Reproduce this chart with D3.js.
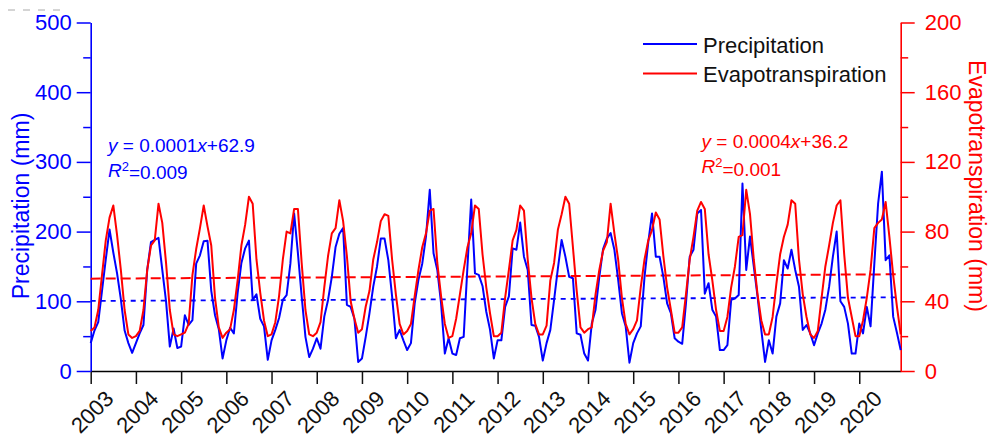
<!DOCTYPE html>
<html>
<head>
<meta charset="utf-8">
<script src="https://cdn.jsdelivr.net/npm/d3@7"></script>
<style>
  body { margin: 0; background: #fff; }
  svg text { font-family: "Liberation Sans", Arial, sans-serif; }
</style>
</head>
<body>
<div id="chart"></div>
<script>
// tick labels
var years = [2003, 2004, 2005, 2006, 2007, 2008, 2009, 2010, 2011,
  2012, 2013, 2014, 2015, 2016, 2017, 2018, 2019, 2020];
var precipTicks = d3.range(0, 501, 50);
var etTicks = d3.range(0, 201, 20);

// monthly precipitation (mm), Jan..Dec per row
var precipitation = [
  40, 58, 70, 115, 160, 203, 170, 140, 103, 58, 40, 26,    // 2003
  40, 54, 66, 145, 185, 188, 191, 145, 100, 35, 61, 33,    // 2004
  35, 80, 66, 73, 154, 166, 186, 187, 115, 80, 60, 18,     // 2005
  44, 62, 54, 112, 155, 176, 187, 102, 110, 75, 64, 16,    // 2006
  44, 59, 76, 102, 109, 154, 226, 169, 107, 49, 20, 32,    // 2007
  47, 32, 78, 102, 135, 178, 197, 205, 95, 92, 75, 13,     // 2008
  18, 49, 83, 121, 150, 190, 190, 159, 107, 47, 59, 44,    // 2009
  30, 40, 97, 131, 154, 193, 260, 169, 145, 97, 25, 47,    // 2010
  25, 23, 47, 49, 150, 246, 140, 138, 122, 85, 59, 18,     // 2011
  44, 44, 92, 107, 176, 174, 213, 164, 145, 66, 65, 49,    // 2012
  15, 40, 59, 102, 147, 188, 164, 135, 133, 54, 52, 25,    // 2013
  15, 68, 88, 135, 175, 190, 198, 174, 131, 83, 64, 12,    // 2014
  40, 54, 64, 135, 185, 226, 164, 164, 135, 97, 83, 47,    // 2015
  42, 39, 97, 164, 174, 226, 231, 111, 126, 88, 78, 30,    // 2016
  30, 37, 102, 104, 109, 269, 145, 193, 150, 107, 59, 13,  // 2017
  44, 25, 78, 97, 159, 147, 174, 145, 121, 59, 66, 54,     // 2018
  37, 54, 68, 88, 121, 164, 200, 100, 92, 68, 25, 25,      // 2019
  68, 54, 92, 64, 154, 240, 286, 159, 166, 78, 55, 30      // 2020
];

// monthly evapotranspiration (mm)
var evapotranspiration = [
  23, 25, 35, 55, 75, 88, 95, 78, 58, 35, 21, 19,   // 2003
  20, 23, 35, 58, 72, 75, 96, 85, 62, 35, 21, 20,   // 2004
  21, 22, 27, 55, 70, 82, 95, 83, 72, 42, 25, 19,   // 2005
  22, 24, 35, 52, 72, 84, 100, 96, 64, 45, 29, 20,  // 2006
  21, 28, 43, 64, 80, 79, 93, 93, 62, 35, 21, 20,   // 2007
  22, 28, 48, 66, 79, 82, 98, 86, 66, 40, 30, 22,   // 2008
  24, 37, 46, 64, 74, 86, 90, 89, 64, 44, 27, 21,   // 2009
  23, 27, 43, 58, 71, 79, 92, 93, 62, 43, 27, 19,   // 2010
  20, 30, 44, 58, 71, 79, 95, 93, 67, 48, 33, 20,   // 2011
  20, 22, 42, 58, 75, 81, 95, 92, 64, 42, 27, 21,   // 2012
  21, 26, 52, 62, 81, 90, 100, 96, 71, 46, 25, 22,  // 2013
  24, 25, 44, 58, 69, 74, 96, 79, 64, 42, 27, 21,   // 2014
  24, 29, 48, 64, 75, 81, 91, 87, 66, 48, 35, 22,   // 2015
  22, 25, 44, 64, 77, 92, 97, 93, 67, 52, 35, 23,   // 2016
  23, 31, 48, 60, 77, 78, 104, 90, 64, 44, 29, 21,  // 2017
  21, 31, 50, 67, 77, 84, 98, 96, 64, 44, 31, 21,   // 2018
  19, 23, 42, 60, 72, 85, 95, 98, 67, 42, 31, 20,   // 2019
  20, 29, 42, 58, 82, 85, 87, 97, 77, 55, 37, 21    // 2020
];

// linear trend values at first and last month
var precipTrend = [100.5, 105.7];
var etTrend = [53, 55.5];

var w = 989,
  h = 437;
var plotL = 90.7,
  plotR = 900.7,
  plotT = 22.5,
  plotB = 371;
var blue = "#0000ff",
  red = "#ff0000";

var svg = d3.select("#chart")
  .append("svg")
  .attr("width", w)
  .attr("height", h);

var xscale = d3.scaleLinear().domain([0, precipitation.length - 1]).range([plotL, plotR]);
var yLeft = d3.scaleLinear().domain([0, 500]).range([plotB, plotT]);
var yRight = d3.scaleLinear().domain([0, 200]).range([plotB, plotT]);

// stray dashes top-left of the original figure
svg.append("line")
  .attr("x1", 8).attr("x2", 60).attr("y1", 10).attr("y2", 10)
  .attr("stroke", "#aaa").attr("stroke-width", 1).attr("stroke-dasharray", "7,8");

// x axis
var xaxis = d3.axisBottom(xscale)
  .tickValues(years.map(function(d, i) { return i * 12; }))
  .tickFormat(function(d) { return years[d / 12]; })
  .tickSize(13)
  .tickSizeOuter(0);
var gx = svg.append("g")
  .attr("class", "axis x")
  .attr("transform", "translate(0," + plotB + ")")
  .call(xaxis);
gx.select(".domain").attr("stroke", "#000").attr("stroke-width", 1.5);
gx.selectAll(".tick line").attr("stroke", "#111").attr("stroke-width", 1.5);
gx.selectAll(".tick text")
  .attr("y", 0)
  .attr("dy", null)
  .attr("transform", "translate(1,41) rotate(-45)")
  .attr("text-anchor", "middle")
  .attr("dominant-baseline", "central")
  .attr("fill", "#111")
  .style("font-size", "22px");

// left axis
var yaxisL = d3.axisLeft(yLeft)
  .tickValues(precipTicks)
  .tickFormat(function(d) { return d % 100 === 0 ? d : ""; })
  .tickSize(14)
  .tickPadding(5)
  .tickSizeOuter(0);
var gl = svg.append("g")
  .attr("class", "axis y")
  .attr("transform", "translate(" + plotL + ",0)")
  .call(yaxisL);
gl.select(".domain").attr("stroke", blue).attr("stroke-width", 1.6);
gl.selectAll(".tick line").attr("stroke", blue).attr("stroke-width", 1.5)
  .attr("x2", function(d) { return d % 100 === 0 ? -14 : -7.5; });
gl.selectAll(".tick text").attr("fill", blue).style("font-size", "22px");

// right axis
var yaxisR = d3.axisRight(yRight)
  .tickValues(etTicks)
  .tickFormat(function(d) { return d % 40 === 0 ? d : ""; })
  .tickSize(14)
  .tickPadding(10)
  .tickSizeOuter(0);
var gr = svg.append("g")
  .attr("class", "axis y2")
  .attr("transform", "translate(" + plotR + ",0)")
  .call(yaxisR);
gr.select(".domain").attr("stroke", red).attr("stroke-width", 1.6);
gr.selectAll(".tick line").attr("stroke", red).attr("stroke-width", 1.5)
  .attr("x2", function(d) { return d % 40 === 0 ? 14 : 7.5; });
gr.selectAll(".tick text").attr("fill", red).style("font-size", "22px");

// axis titles
svg.append("text")
  .attr("transform", "translate(29,206) rotate(-90)")
  .attr("text-anchor", "middle")
  .attr("fill", blue)
  .style("font-size", "23px")
  .text("Precipitation (mm)");
svg.append("text")
  .attr("transform", "translate(969,186) rotate(90)")
  .attr("text-anchor", "middle")
  .attr("fill", red)
  .style("font-size", "23px")
  .text("Evapotranspiration (mm)");

// trend lines
var trendLine = function(scale, vals) {
  return "M" + xscale(0) + "," + scale(vals[0]) + "L" + xscale(precipitation.length - 1) + "," + scale(vals[1]);
};
svg.append("path")
  .attr("d", trendLine(yLeft, precipTrend))
  .attr("fill", "none").attr("stroke", blue).attr("stroke-width", 1.8)
  .attr("stroke-dasharray", "5,5");
svg.append("path")
  .attr("d", trendLine(yRight, etTrend))
  .attr("fill", "none").attr("stroke", red).attr("stroke-width", 2)
  .attr("stroke-dasharray", "10,5");

// series
var lineP = d3.line()
  .x(function(d, i) { return xscale(i); })
  .y(function(d) { return yLeft(d); });
var lineE = d3.line()
  .x(function(d, i) { return xscale(i); })
  .y(function(d) { return yRight(d); });

svg.append("path")
  .datum(precipitation)
  .attr("d", lineP)
  .attr("fill", "none").attr("stroke", blue).attr("stroke-width", 2)
  .attr("stroke-linejoin", "round");
svg.append("path")
  .datum(evapotranspiration)
  .attr("d", lineE)
  .attr("fill", "none").attr("stroke", red).attr("stroke-width", 2)
  .attr("stroke-linejoin", "round");

// legend
var legend = [
  { name: "Precipitation", color: blue, y: 44 },
  { name: "Evapotranspiration", color: red, y: 73.5 }
];
var lg = svg.append("g").attr("class", "legend");
legend.forEach(function(d) {
  lg.append("line")
    .attr("x1", 643).attr("x2", 697).attr("y1", d.y).attr("y2", d.y)
    .attr("stroke", d.color).attr("stroke-width", 1.8);
  lg.append("text")
    .attr("x", 703).attr("y", d.y + 8.5)
    .attr("fill", "#111")
    .style("font-size", "22px")
    .text(d.name);
});

// regression annotations
var annotate = function(x, y, color, slope, icpt, r2) {
  var t1 = svg.append("text").attr("x", x).attr("y", y).attr("fill", color).style("font-size", "19px");
  t1.append("tspan").style("font-style", "italic").text("y");
  t1.append("tspan").text(" = " + slope);
  t1.append("tspan").style("font-style", "italic").text("x");
  t1.append("tspan").text("+" + icpt);
  var t2 = svg.append("text").attr("x", x).attr("y", y + 25).attr("fill", color).style("font-size", "19px");
  t2.append("tspan").style("font-style", "italic").text("R");
  t2.append("tspan").attr("dy", "-0.45em").style("font-size", "13px").text("2");
  t2.append("tspan").attr("dy", "0.45em").text("=" + r2);
};
annotate(108, 151.5, blue, "0.0001", "62.9", "0.009");
annotate(701.5, 148.3, red, "0.0004", "36.2", "0.001");
</script>
</body>
</html>
